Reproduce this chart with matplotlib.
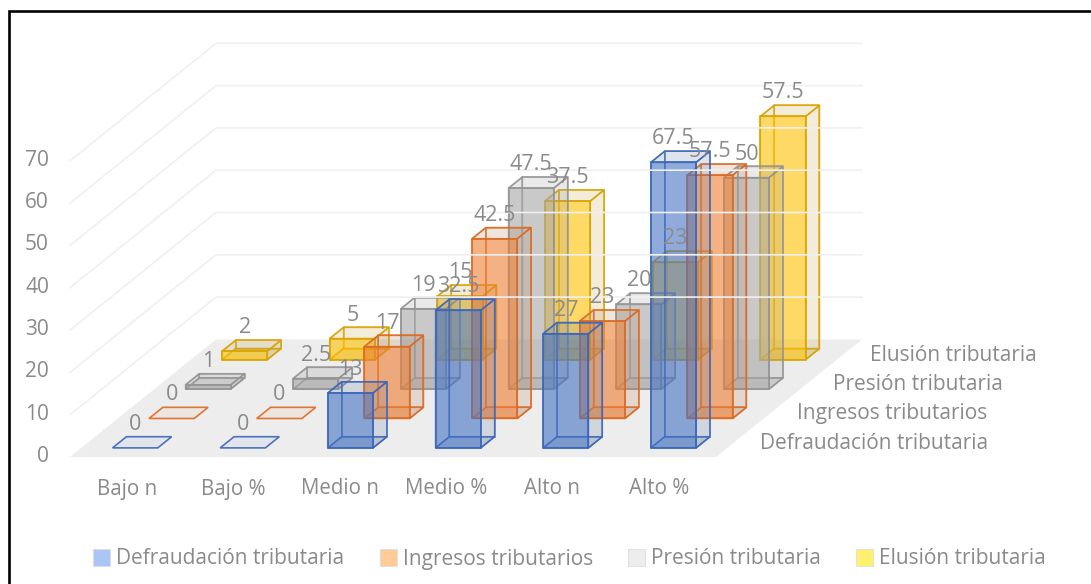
import numpy as np
import matplotlib
matplotlib.use("Agg")
import matplotlib.pyplot as plt
from matplotlib.colors import to_rgb
from matplotlib.patches import Polygon, Rectangle

plt.rcParams["font.family"] = ["Open Sans", "DejaVu Sans"]

categories = ["Bajo n", "Bajo %", "Medio n", "Medio %", "Alto n", "Alto %"]
series_names = [
    "Defraudación tributaria",
    "Ingresos tributarios",
    "Presión tributaria",
    "Elusión tributaria",
]
defraudacion = [0, 0, 13, 32.5, 27, 67.5]
ingresos = [0, 0, 17, 42.5, 23, 57.5]
presion = [1, 2.5, 19, 47.5, 20, 50]
elusion = [2, 5, 15, 37.5, 23, 57.5]
y_ticks = [0, 10, 20, 30, 40, 50, 60, 70]

series_values = [defraudacion, ingresos, presion, elusion]
colors = ["#4472C4", "#ED7D31", "#A5A5A5", "#FFC000"]
edge_colors = ["#3A66B8", "#DB6A22", "#949494", "#D9A300"]
swatch_colors = ["#A9C6F7", "#FFCB96", "#EDEDED", "#FFF06E"]
text_color = "#8A8A8A"

# oblique projection used for the whole chart, in figure pixels
X0, Y0 = 70.0, 457.0
CAT_DX = 107.67
DEPTH_DX, DEPTH_DY = 36.5, 29.4
UNIT_DY = 4.23
BAR_X = (0.29, 0.71)
BAR_Z = (0.31, 0.69)


def project(x, z, v):
    return (X0 + CAT_DX * x + DEPTH_DX * z, Y0 - DEPTH_DY * z - UNIT_DY * v)


def draw_bar(ax, i, s, value):
    x1, x2 = i + BAR_X[0], i + BAR_X[1]
    z1, z2 = s + BAR_Z[0], s + BAR_Z[1]
    col, edge = colors[s], edge_colors[s]
    # side faces are a greyed version of the series colour
    side = tuple(0.5 * c + 0.25 for c in to_rgb(col))

    def face(points):
        return [project(*p) for p in points]

    bottom = face([(x1, z1, 0), (x2, z1, 0), (x2, z2, 0), (x1, z2, 0)])

    # a zero bar is only its flat footprint on the floor
    if value == 0:
        ax.add_patch(Polygon(bottom, closed=True, facecolor=col, edgecolor="none", alpha=0.07))
        ax.add_patch(Polygon(bottom, closed=True, facecolor="none", edgecolor=edge, linewidth=1.2, alpha=0.9))
        return

    back = face([(x1, z2, 0), (x2, z2, 0), (x2, z2, value), (x1, z2, value)])
    left = face([(x1, z1, 0), (x1, z2, 0), (x1, z2, value), (x1, z1, value)])
    right = face([(x2, z1, 0), (x2, z2, 0), (x2, z2, value), (x2, z1, value)])
    top = face([(x1, z1, value), (x2, z1, value), (x2, z2, value), (x1, z2, value)])
    front = face([(x1, z1, 0), (x2, z1, 0), (x2, z1, value), (x1, z1, value)])

    for pts in [back, left]:
        ax.add_patch(Polygon(pts, closed=True, facecolor="none", edgecolor=edge, linewidth=1.1, alpha=0.7))
    for pts in [bottom, right, top]:
        ax.add_patch(Polygon(pts, closed=True, facecolor=side, edgecolor="none", alpha=0.2))
        ax.add_patch(Polygon(pts, closed=True, facecolor="none", edgecolor=edge, linewidth=1.1, alpha=0.85))
    ax.add_patch(Polygon(front, closed=True, facecolor=col, edgecolor="none", alpha=0.6))
    ax.add_patch(Polygon(front, closed=True, facecolor="none", edgecolor=edge, linewidth=1.2, alpha=0.95))


fig = plt.figure(figsize=(10.91, 5.84), dpi=100)
ax = fig.add_axes([0, 0, 1, 1])
ax.set_xlim(0, 1091)
ax.set_ylim(584, 0)
ax.axis("off")

# outer frame, open on the right and at the bottom
ax.plot([9, 9, 1091], [584, 11, 11], color="black", lw=1.9, solid_joinstyle="miter", solid_capstyle="butt")

n_cat = len(categories)
n_series = len(series_names)

# floor and grid walls
floor = [project(0, 0, 0), project(n_cat, 0, 0), project(n_cat, n_series, 0), project(0, n_series, 0)]
ax.add_patch(Polygon(floor, closed=True, facecolor="#EDEDED", edgecolor="none"))
for t in y_ticks[1:]:
    a, b, c = project(0, 0, t), project(0, n_series, t), project(n_cat, n_series, t)
    ax.plot([a[0], b[0], c[0]], [a[1], b[1], c[1]], color="#F0F0F0", lw=1.2)

# back series first so the front ones sit over them
for s in range(n_series - 1, -1, -1):
    for i in range(n_cat):
        draw_bar(ax, i, s, series_values[s][i])

for s in range(n_series):
    for i in range(n_cat):
        v = series_values[s][i]
        px, py = project(i + 0.5, s + BAR_Z[0], v)
        ax.text(px, py - 23.5, f"{v:g}", ha="center", va="center", fontsize=15.5, color=text_color)

for t in y_ticks:
    px, py = project(0, 0, t)
    ax.text(49, py - 0.5, str(t), ha="right", va="center", fontsize=15, color=text_color)

for i, name in enumerate(categories):
    px = X0 + 106.3 * (i + 0.5) + 4
    ax.text(px, 489, name, ha="center", va="center", fontsize=14.8, color=text_color)

for s, name in enumerate(series_names):
    px, py = project(n_cat, s + 0.5, 0)
    ax.text(px + 26, py + 1, name, ha="left", va="center", fontsize=15, color=text_color)

# legend along the bottom
legend_x = [93, 380, 628, 856]
for x, name, col in zip(legend_x, series_names, swatch_colors):
    ax.add_patch(Rectangle((x, 549), 17, 17, facecolor=col, edgecolor="#DDDDDD", linewidth=0.6))
    ax.text(x + 23, 559, name, ha="left", va="center", fontsize=15, color=text_color)

fig.savefig("out.png", dpi=100)
